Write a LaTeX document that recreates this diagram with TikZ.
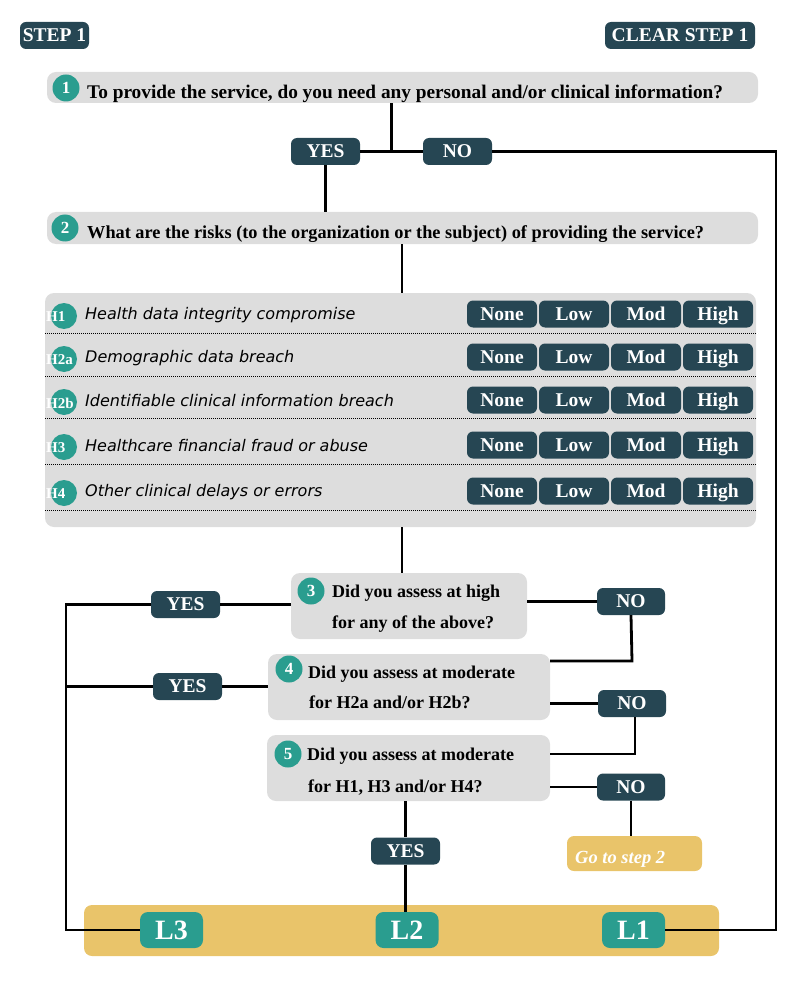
\documentclass[tikz,border=0pt]{standalone}
\usepackage{fontspec}
\setmainfont{Liberation Serif}
\newfontfamily\dvs{DejaVu Sans}
\usetikzlibrary{calc}
\definecolor{navy}{HTML}{264653}
\definecolor{teal2}{HTML}{2A9D8F}
\definecolor{sand}{HTML}{E9C46A}
\definecolor{lgray}{HTML}{DDDDDD}
\newcommand{\fs}[1]{\fontsize{#1}{#1}\selectfont}
\begin{document}
\begin{tikzpicture}[x=1pt,y=-1pt,
 btn/.style={fill=navy, rounded corners=6, text=white, font=\bfseries\fs{19.5}, minimum height=27, inner sep=0, text height=12.8, text depth=0},
 greybox/.style={fill=lgray, rounded corners=9, inner sep=0},
 numc/.style={circle, fill=teal2, minimum size=27, inner sep=0, text=white, font=\bfseries\fs{17}},
 hc/.style={circle, fill=teal2, minimum size=26, inner sep=0},
 hlab/.style={anchor=west, text=white, font=\bfseries\fs{15}, inner sep=0},
 risk/.style={anchor=west, font=\dvs\itshape\fs{16}, inner sep=0},
 lvl/.style={fill=teal2, rounded corners=8, text=white, font=\bfseries\fs{28}, minimum width=63, minimum height=36, inner sep=0, text height=18.5, text depth=0},
 qtext/.style={anchor=base west, font=\bfseries\fs{19.3}, inner sep=0},
 qtextc/.style={anchor=base west, font=\bfseries\fs{18.3}, inner sep=0},
 qtextb/.style={anchor=base west, font=\bfseries\fs{18}, inner sep=0},
 conn/.style={line width=2.8},
 dots/.style={densely dotted, line width=1}
]
\useasboundingbox (0,0) rectangle (800,1000);

% header buttons
\node[btn, minimum width=69] (step) at (54.5,35.5) {STEP 1};
\node[btn, minimum width=150] (clear) at (680,35.5) {CLEAR STEP 1};

% question 1
\node[greybox, minimum width=711, minimum height=31] (q1) at (402.5,87.5) {};
\node[numc] (n1) at (66,88) {1};
\node[qtext] (t1) at (87,98.5) {To provide the service, do you need any personal and/or clinical information?};
\node[btn, minimum width=69] (yes1) at (325.5,151.5) {YES};
\node[btn, minimum width=69] (no1) at (457.5,151.5) {NO};

% question 2
\node[greybox, minimum width=711, minimum height=32] (q2) at (402.5,228) {};
\node[numc] (n2) at (65,228) {2};
\node[qtextc] (t2) at (87,239) {What are the risks (to the organization or the subject) of providing the service?};

% risk panel
\node[greybox, minimum width=711, minimum height=234] (panel) at (400.5,410) {};
\foreach \y/\d/\h/\txt/\i in {314/333/H1/Health data integrity compromise/1,
  357/376/H2a/Demographic data breach/2,
  400/418/H2b/Identifiable clinical information breach/3,
  445/464/H3/Healthcare financial fraud or abuse/4,
  491/510/H4/Other clinical delays or errors/5}{
  \node[hc] (hc\i) at (64,\y+2) {};
  \node[hlab] (hl\i) at (46,\y+3) {\h};
  \node[risk] (rt\i) at (85,\y+1) {\txt};
  \node[btn, minimum width=70] (none\i) at (502,\y) {None};
  \node[btn, minimum width=70] (low\i) at (574,\y) {Low};
  \node[btn, minimum width=70] (mod\i) at (646,\y) {Mod};
  \node[btn, minimum width=70] (high\i) at (718,\y) {High};
  \draw[dots] (45,\d) -- (756,\d);
}

% question 3
\node[greybox, minimum width=236, minimum height=66] (q3) at (409,606) {};
\node[numc] (n3) at (311,591) {3};
\node[qtextb] (t3a) at (332,597) {Did you assess at high};
\node[qtextb] (t3b) at (332,628) {for any of the above?};
\node[btn, minimum width=69] (yes3) at (185.5,604.5) {YES};
\node[btn, minimum width=68] (no3) at (631,601.5) {NO};

% question 4
\node[greybox, minimum width=282, minimum height=66] (q4) at (409,687) {};
\node[numc] (n4) at (289,669) {4};
\node[qtextb] (t4a) at (308,678) {Did you assess at moderate};
\node[qtextb] (t4b) at (309,708) {for H2a and/or H2b?};
\node[btn, minimum width=69] (yes4) at (187.5,686.5) {YES};
\node[btn, minimum width=68] (no4) at (632,703.5) {NO};

% question 5
\node[greybox, minimum width=283, minimum height=66] (q5) at (408.5,768) {};
\node[numc] (n5) at (288,754) {5};
\node[qtextb] (t5a) at (307,760) {Did you assess at moderate};
\node[qtextb] (t5b) at (308,792) {for H1, H3 and/or H4?};
\node[btn, minimum width=68] (no5) at (631,787) {NO};
\node[btn, minimum width=69] (yes5) at (405.5,851) {YES};
\node[fill=sand, rounded corners=7, minimum width=135, minimum height=35, inner sep=0] (go) at (634.5,853.5) {};
\node[anchor=base west, inner sep=0, text=white, font=\bfseries\itshape\fs{18.5}] (gotext) at (575,863) {Go to step 2};

% levels
\node[fill=sand, rounded corners=8, minimum width=635, minimum height=51, inner sep=0] (bar) at (401.5,930.5) {};
\node[lvl] (l3) at (171.5,930) {L3};
\node[lvl] (l2) at (407,930) {L2};
\node[lvl] (l1) at (633.5,930) {L1};

% guide coordinates
\coordinate (mid1) at ($(yes1.east)!0.5!(no1.west)$);
\coordinate (spine) at (402,0);
\coordinate (rc) at (776,0);
\coordinate (lr) at (66,0);
\coordinate (j3) at (632,661);
\coordinate (j4) at (635,754);

% connectors
\draw[conn] (q1.south -| mid1) -- (mid1);
\draw[conn] (yes1.east) -- (no1.west);
\draw[conn] (no1.east) -- (no1.east -| rc) -- (l1.east -| rc) -- (l1.east);
\draw[conn] (yes1.south) -- (yes1.south |- q2.north);
\draw[conn] (q2.south -| spine) -- (panel.north -| spine);
\draw[conn] (panel.south -| spine) -- (q3.north -| spine);
\draw[conn] (q3.west |- yes3) -- (yes3.east);
\draw[conn] (yes3.west) -- (yes3.west -| lr) -- (l3.west -| lr) -- (l3.west);
\draw[conn] (q4.west |- yes4) -- (yes4.east);
\draw[conn] (yes4.west) -- (yes4.west -| lr);
\draw[conn] (q3.east |- no3) -- (no3.west);
\draw[conn] (no3.south) -- (j3) -- (j3 -| q4.east);
\draw[conn] (q4.east |- no4) -- (no4.west);
\draw[conn] (no4.south -| j4) -- (j4) -- (j4 -| q5.east);
\draw[conn] (q5.east |- no5) -- (no5.west);
\draw[conn] (no5.south) -- (no5.south |- go.north);
\draw[conn] (q5.south -| yes5) -- (yes5.north);
\draw[conn] (yes5.south) -- (yes5.south |- l2.north);
\end{tikzpicture}
\end{document}
